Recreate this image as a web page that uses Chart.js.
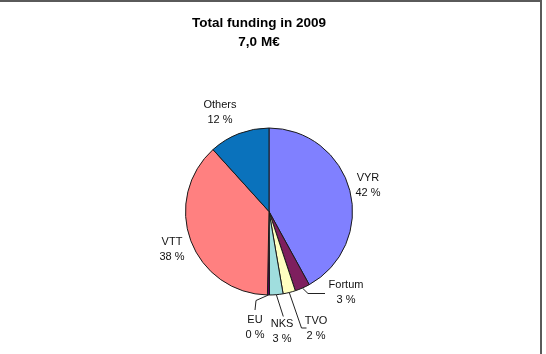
<!DOCTYPE html>
<html>
<head>
<meta charset="utf-8">
<script src="https://cdn.jsdelivr.net/npm/chart.js@4/dist/chart.umd.min.js"></script>
<style>
  html, body { margin: 0; padding: 0; background: #fff; overflow: hidden; }
  #wrap { position: relative; width: 546px; height: 354px; }
  #frame { position: absolute; left: -10px; top: 0px; width: 552px; height: 370px;
           box-sizing: border-box; border: 2px solid #5a5a5a; }
  canvas { position: absolute; left: 0; top: 0; }
</style>
</head>
<body>
<div id="wrap">
  <div id="frame"></div>
  <canvas id="c" width="546" height="354"></canvas>
</div>
<script>
// ---- data ----
const titleLines = ['Total funding in 2009', '7,0 M€'];
const categories = ['VYR', 'Fortum', 'TVO', 'NKS', 'EU', 'VTT', 'Others'];
const shares = [42.0, 2.9, 2.4, 2.6, 0.4, 38.0, 11.7];

// ---- style ----
const colors = ['#8080FF', '#7E1F5E', '#FFFFC0', '#A0DEDE', '#5E005E', '#FF8080', '#0A72BC'];
// label block centre, offset from pie centre (px)
const labelOffsets = [[99, -26.5], [77, 81], [47, 116.5], [13, 120], [-14, 116], [-97, 37.5], [-49, -99.5]];
// leader line points after the arc edge, relative to the label centre (null = no leader)
const leaders = [null, [[-38, 1], [-21, 1]], [[-14.5, 0], [-9.5, 0]], [[1.3, -15]], [[1, -27], [0, -17.5]], null, null];

const total = shares.reduce((a, b) => a + b, 0);

const labelPlugin = {
  id: 'labels',
  afterDatasetsDraw(chart) {
    const ctx = chart.ctx;
    const meta = chart.getDatasetMeta(0);
    ctx.save();
    ctx.font = '11px "Liberation Sans", Arial, sans-serif';
    ctx.fillStyle = '#111';
    ctx.textAlign = 'center';
    ctx.textBaseline = 'middle';
    meta.data.forEach((arc, i) => {
      const p = arc.getProps(['x', 'y', 'startAngle', 'endAngle', 'outerRadius'], true);
      const mid = (p.startAngle + p.endAngle) / 2;
      const lx = p.x + labelOffsets[i][0];
      const ly = p.y + labelOffsets[i][1];
      if (leaders[i]) {
        ctx.beginPath();
        ctx.strokeStyle = '#222';
        ctx.lineWidth = 1;
        ctx.moveTo(p.x + Math.cos(mid) * p.outerRadius, p.y + Math.sin(mid) * p.outerRadius);
        leaders[i].forEach(pt => ctx.lineTo(lx + pt[0], ly + pt[1]));
        ctx.stroke();
      }
      const pct = Math.round(shares[i] / total * 100);
      ctx.fillText(categories[i], lx, ly - 7.5);
      ctx.fillText(pct + ' %', lx, ly + 7.5);
    });
    ctx.restore();
  },
  afterDraw(chart) {
    const ctx = chart.ctx;
    ctx.save();
    ctx.font = 'bold 13.5px "Liberation Sans", Arial, sans-serif';
    ctx.fillStyle = '#000';
    ctx.textAlign = 'center';
    ctx.textBaseline = 'alphabetic';
    ctx.fillText(titleLines[0], 259, 26.5);
    ctx.fillText(titleLines[1], 259, 46);
    ctx.restore();
  }
};

new Chart(document.getElementById('c'), {
  type: 'pie',
  data: {
    labels: categories,
    datasets: [{
      data: shares,
      backgroundColor: colors,
      borderColor: '#1a1a1a',
      borderWidth: 1
    }]
  },
  options: {
    responsive: false,
    animation: false,
    layout: { padding: { top: 127.5, bottom: 58.5, left: 185, right: 193 } },
    plugins: { legend: { display: false }, tooltip: { enabled: false }, title: { display: false } }
  },
  plugins: [labelPlugin]
});
</script>
</body>
</html>
